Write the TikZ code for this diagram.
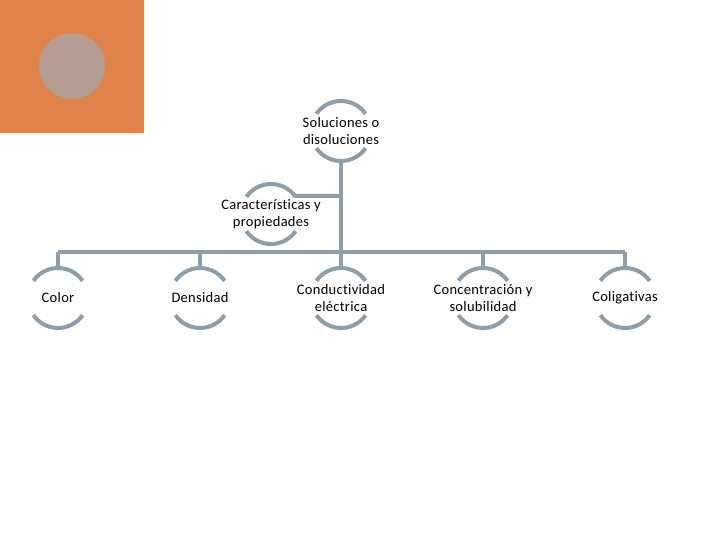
\documentclass[tikz,border=0pt]{standalone}
\usepackage{fontspec}
\setmainfont[Ligatures={NoCommon},LetterSpace=2]{Carlito}
\definecolor{orangebg}{RGB}{224,131,74}
\definecolor{dotgray}{RGB}{181,157,147}
\definecolor{linegray}{RGB}{141,157,170}
\begin{document}
\begin{tikzpicture}[x=1pt,y=1pt,
  lbl/.style={align=center,font=\fontsize{14.5}{17}\selectfont,inner sep=0pt},
  arcst/.style={draw=linegray,line width=4pt},
  conn/.style={draw=linegray,line width=4pt}]
\useasboundingbox (0,0) rectangle (720,540);
\fill[orangebg] (0,407) rectangle (144,540);
\fill[dotgray] (72,474) circle (33);
\node[lbl] (sol) at (341,409) {Soluciones o\\disoluciones};
\node[lbl] (car) at (271,326) {Características y\\propiedades};
\node[lbl] (c1) at (58,242) {Color};
\node[lbl] (c2) at (200,242) {Densidad};
\node[lbl] (c3) at (341,242) {Conductividad\\eléctrica};
\node[lbl] (c4) at (483,242) {Concentración y\\solubilidad};
\node[lbl] (c5) at (625,242) {Coligativas};
\foreach \n in {sol,car,c1,c2,c3,c4,c5}{
  \draw[arcst] ([shift={(35:30)}]\n.center) arc[start angle=35,end angle=145,radius=30];
  \draw[arcst] ([shift={(215:30)}]\n.center) arc[start angle=215,end angle=325,radius=30];
}
\coordinate (bus) at (0,288);
\draw[conn] ([yshift=-30]sol.center) -- (sol.center |- bus);
\draw[conn] ([shift={(37:30)}]car.center) -- (sol.center |- {(0,344)});
\draw[conn] (c1.center |- bus) -- (c5.center |- bus);
\foreach \n in {c1,c2,c3,c4,c5}{
  \draw[conn] (\n.center |- bus) -- ([yshift=30]\n.center);
}
\end{tikzpicture}
\end{document}
